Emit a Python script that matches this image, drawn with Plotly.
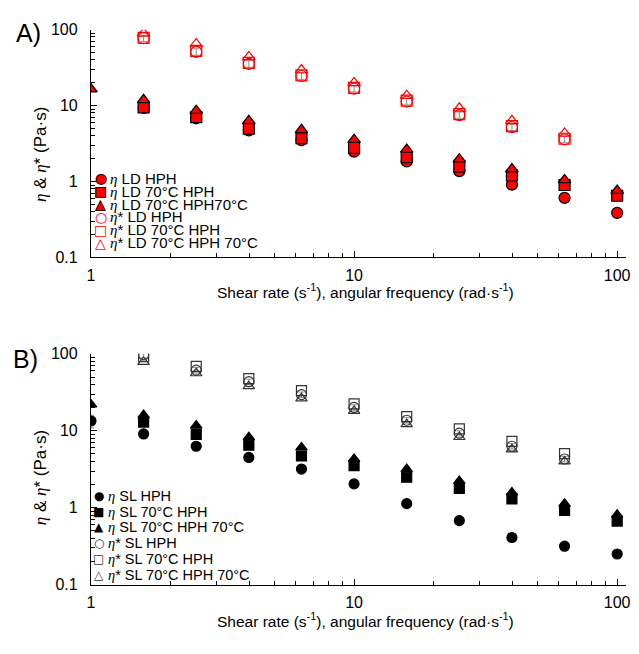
import plotly.graph_objects as go

# ---------------- data ----------------
shear = [1, 1.585, 2.512, 3.981, 6.310, 10, 15.85, 25.12, 39.81, 63.10, 100]
freq = [1.585, 2.512, 3.981, 6.310, 10, 15.85, 25.12, 39.81, 63.10]

# Panel A: LD samples
a_eta_hph = [None, 9.3, 6.8, 4.7, 3.5, 2.48, 1.84, 1.37, 0.91, 0.61, 0.386]
a_eta_70hph = [None, 9.46, 7.03, 4.98, 3.72, 2.77, 2.1, 1.57, 1.2, 0.9, 0.65]
a_eta_70hph70 = [16.5, 11.9, 8.57, 6.3, 4.8, 3.56, 2.64, 1.97, 1.46, 1.05, 0.76]
a_etas_hph = [77, 51, 35.5, 24.5, 16.7, 11.3, 7.5, 5.2, 3.6]
a_etas_70hph = [78, 52.5, 36.5, 25, 17.1, 11.6, 7.7, 5.35, 3.66]
a_etas_70hph70 = [89, 64.7, 43.8, 29.4, 19.9, 13.5, 9.2, 6.3, 4.3]
a_etas_err = [7, 5, 3.5, 2.4, 1.6, 1.1, 0.7, 0.5, 0.35]
a_eta_err = [1.5, 0.7, 0.5, 0.4, 0.3, 0.25, 0.15, 0.12, 0.08, 0.06, 0.03]

# Panel B: SL samples
b_eta_hph = [13.4, 9.1, 6.3, 4.5, 3.18, 2.04, 1.13, 0.68, 0.41, 0.316, 0.25]
b_eta_70hph = [None, 13, 9.0, 6.5, 4.7, 3.52, 2.49, 1.78, 1.3, 0.92, 0.67]
b_eta_70hph70 = [22, 16, 11.7, 8.26, 6.07, 4.3, 3.18, 2.23, 1.58, 1.13, 0.81]
b_etas_hph = [96.8, 61.5, 43.5, 29.5, 20.1, 13.7, 9.3, 6.3, 4.3]
b_etas_70hph = [92, 68.7, 47.6, 33.2, 22.4, 15.3, 10.6, 7.28, 5.06]
b_etas_70hph70 = [78.7, 56, 38, 26.4, 18.1, 12.2, 8.3, 5.75, 4.0]
b_etas_err = [8, 5, 3.5, 2.4, 1.6, 1.1, 0.7, 0.5, 0.35]
b_eta_err = [2.5, 0.5, 0.3, 0.25, 0.2, 0.1, 0.08, 0.05, 0.03, 0.02, 0.02]

y_ticks = [0.1, 1, 10, 100]
y_ticktext = ["0.1", "1", "10", "100"]
x_ticks = [1, 10, 100]
x_ticktext = ["1", "10", "100"]

ETA = "<span style='font-family:Liberation Serif'><i>η</i></span>"
names_a = [f"{ETA} LD HPH", f"{ETA} LD 70°C HPH", f"{ETA} LD 70°C HPH70°C",
           f"{ETA}* LD HPH", f"{ETA}* LD 70°C HPH", f"{ETA}* LD 70°C HPH 70°C"]
names_b = [f"{ETA} SL HPH", f"{ETA} SL 70°C HPH", f"{ETA} SL 70°C HPH 70°C",
           f"{ETA}* SL HPH", f"{ETA}* SL 70°C HPH", f"{ETA}* SL 70°C HPH 70°C"]

FONT = "Arial, Liberation Sans, sans-serif"
RED = "#FF0000"
GRAY = "#8c8c8c"
DARK = "#333333"

# page is drawn with an 8px body margin: work in screen px and shift
OFF = 8
W, H = 639 - OFF, 654 - OFF


def px_x(v):
    return (v - OFF) / W


def px_y(v):
    return 1 - (v - OFF) / H


fig = go.Figure()


def err(arr):
    return dict(type="data", array=arr, color=GRAY, thickness=1, width=3, visible=True)


specs_a = [
    (shear, a_eta_hph, "circle", RED, "black", a_eta_err),
    (shear, a_eta_70hph, "square", RED, "black", None),
    (shear, a_eta_70hph70, "triangle-up", RED, "black", None),
    (freq, a_etas_hph, "circle-open", RED, RED, a_etas_err),
    (freq, a_etas_70hph, "square-open", RED, RED, None),
    (freq, a_etas_70hph70, "triangle-up-open", RED, RED, None),
]
for (xs, ys, sym, fill, line, e), name in zip(specs_a, names_a):
    fig.add_trace(go.Scatter(
        x=xs, y=ys, mode="markers", name=name, xaxis="x", yaxis="y",
        marker=dict(symbol=sym, size=11, color=fill, line=dict(color=line, width=1.2)),
        error_y=err(e) if e else None,
    ))

specs_b = [
    (shear, b_eta_hph, "circle", "black", "black", b_eta_err),
    (shear, b_eta_70hph, "square", "black", "black", None),
    (shear, b_eta_70hph70, "triangle-up", "black", "black", None),
    (freq, b_etas_hph, "circle-open", DARK, DARK, b_etas_err),
    (freq, b_etas_70hph, "square-open", DARK, DARK, None),
    (freq, b_etas_70hph70, "triangle-up-open", DARK, DARK, None),
]
for (xs, ys, sym, fill, line, e), name in zip(specs_b, names_b):
    fig.add_trace(go.Scatter(
        x=xs, y=ys, mode="markers", name=name, xaxis="x2", yaxis="y2",
        marker=dict(symbol=sym, size=10, color=fill, line=dict(color=line, width=1.2)),
        error_y=err(e) if e else None,
    ))

minor_vals = [m * 10 ** d for d in range(-1, 3) for m in range(2, 10)]

XDOM = [px_x(88), px_x(630)]
XRANGE = [0, 2.034]
A_TOP, A_BOT = 22, 256
B_TOP, B_BOT = 355, 592


def xaxis(anchor):
    return dict(
        type="log", domain=XDOM, range=XRANGE, anchor=anchor,
        showline=True, linecolor="black", linewidth=1.2, mirror=False,
        showgrid=False, zeroline=False,
        ticks="inside", ticklen=6, tickcolor="black", tickwidth=1,
        tickvals=x_ticks, ticktext=x_ticktext, ticklabelstandoff=3,
        tickfont=dict(family=FONT, size=16, color="black"),
        minor=dict(tickvals=minor_vals, ticks="inside", ticklen=4, tickcolor="black",
                   tickwidth=1, showgrid=False),
    )


def yaxis(anchor, top, bot):
    return dict(
        type="log", domain=[px_y(bot), px_y(top)], range=[-1, 2], anchor=anchor,
        showline=True, linecolor="black", linewidth=1.2, mirror=False,
        showgrid=False, zeroline=False,
        ticks="inside", ticklen=6, tickcolor="black", tickwidth=1,
        tickvals=y_ticks, ticktext=y_ticktext, ticklabelstandoff=9,
        tickfont=dict(family=FONT, size=16, color="black"),
        minor=dict(tickvals=minor_vals, ticks="inside", ticklen=4, tickcolor="black",
                   tickwidth=1, showgrid=False),
    )


ytitle = f"{ETA} &amp; {ETA}* (Pa·s)"
xtitle = "Shear rate (s<sup>-1</sup>), angular frequency (rad·s<sup>-1</sup>)"

ann = []


def text(t, x, y, size, color="black", xanchor="center", angle=0, family=FONT):
    ann.append(dict(text=t, x=px_x(x), y=px_y(y), xref="paper", yref="paper",
                    xanchor=xanchor, yanchor="middle", showarrow=False, textangle=angle,
                    font=dict(family=family, size=size, color=color)))


text("A)", 25, 25, 25)
text("B)", 22, 360, 25)
text(xtitle, 366, 290, 15.5)
text(xtitle, 366, 628, 15.5)
text(ytitle, 37, 150, 17, angle=-90)
text(ytitle, 37, 482, 17, angle=-90)

# compact legends, as in the reference
GL = "DejaVu Sans"
glyph_fill = ["●", "■", "▲", "○", "□", "△"]
glyph_open = ["○", "□", "△", None, None, None]

leg_a_y = [174.5, 187.8, 201.1, 214.4, 227.7, 241]
for i, yy in enumerate(leg_a_y):
    text(glyph_fill[i], 98, yy, 14, color=RED, family=GL)
    if glyph_open[i]:
        text(glyph_open[i], 98, yy, 14, color="black", family=GL)
    text(names_a[i], 105, yy, 15, xanchor="left")

leg_b_y = [501, 517, 533, 549, 565.5, 582]
for i, yy in enumerate(leg_b_y):
    text(glyph_fill[i], 96, yy, 12, color="black" if i < 3 else DARK, family=GL)
    text(names_b[i], 103, yy, 14.5, xanchor="left")

fig.update_layout(
    width=W, height=H,
    margin=dict(l=0, r=0, t=0, b=0),
    paper_bgcolor="white", plot_bgcolor="white",
    showlegend=False,
    xaxis=xaxis("y"),
    yaxis=yaxis("x", A_TOP, A_BOT),
    xaxis2=xaxis("y2"),
    yaxis2=yaxis("x2", B_TOP, B_BOT),
    annotations=ann,
)

fig.write_html("out.html")
